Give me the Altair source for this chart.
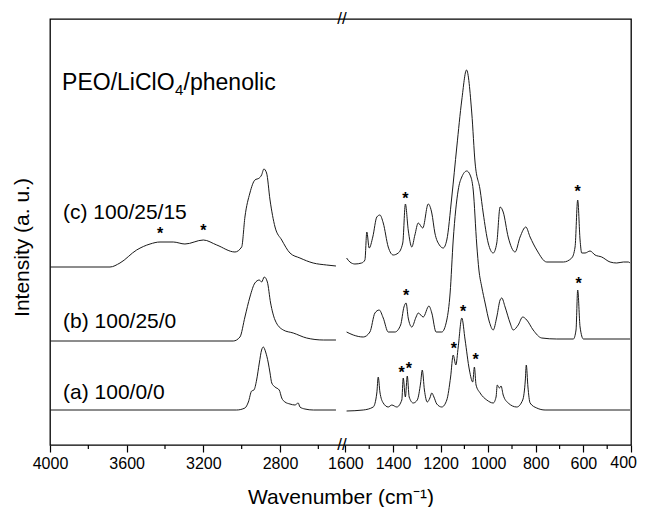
import altair as alt
import pandas as pd

# ---- spectra (wavenumber cm-1, intensity a.u.) ----
c_left_wn = [4000, 3687, 3635, 3548, 3478, 3426, 3357, 3296, 3200, 3130, 3035, 3000, 2983, 2957, 2931,
             2908, 2896, 2884, 2870, 2852, 2826, 2791, 2748, 2696, 2627, 2557, 2508]
c_left_int = [178, 178, 182, 195, 201, 203, 203, 201, 205, 200, 193, 198, 228, 252, 265,
              267, 270, 276, 272, 245, 218, 205, 192, 187, 182, 180, 179]

b_left_wn = [4000, 3044, 3009, 2983, 2957, 2931, 2908, 2896, 2882, 2866, 2849, 2826, 2783, 2731, 2661, 2574, 2508]
b_left_int = [104, 104, 108, 128, 148, 162, 165, 163, 168, 163, 142, 125, 115, 112, 107, 105, 105]

a_left_wn = [4000, 3026, 2983, 2965, 2948, 2936, 2922, 2908, 2896, 2887, 2875, 2861, 2852, 2843, 2826,
             2804, 2791, 2774, 2748, 2722, 2705, 2696, 2670, 2626, 2508]
a_left_int = [35, 35, 37, 43, 54, 55, 65, 82, 95, 98, 93, 82, 72, 62, 58,
              55, 47, 43, 41, 40, 42, 38, 36, 35, 35]

c_right_wn = [1595, 1581, 1560, 1532, 1518, 1510, 1500, 1485, 1468, 1455, 1441, 1420, 1399, 1378, 1359,
              1348, 1336, 1321, 1308, 1294, 1275, 1252, 1237, 1224, 1205, 1189, 1174, 1153, 1132, 1111,
              1091, 1069, 1055, 1034, 1021, 1000, 979, 964, 950, 937, 916, 887, 866, 842, 824,
              796, 754, 684, 649, 635, 624, 614, 607, 593, 572, 551, 523, 488, 460, 432, 411, 404]
c_right_int = [187, 183, 181, 182, 185, 213, 197, 208, 228, 230, 222, 198, 190, 192, 202,
               241, 215, 198, 210, 222, 217, 241, 232, 212, 200, 197, 205, 248, 298, 345,
               375, 332, 282, 255, 232, 202, 192, 202, 238, 233, 208, 193, 208, 218, 208,
               195, 183, 183, 187, 198, 245, 205, 192, 192, 194, 190, 188, 183, 182, 183, 183, 182]

b_right_wn = [1595, 1567, 1525, 1497, 1476, 1458, 1441, 1420, 1392, 1368, 1354, 1345, 1336, 1321, 1303,
              1294, 1273, 1249, 1237, 1219, 1195, 1174, 1160, 1147, 1126, 1111, 1090, 1076, 1063, 1048,
              1039, 1027, 1013, 995, 979, 964, 950, 943, 929, 908, 895, 874, 855, 838, 811,
              775, 712, 642, 631, 624, 614, 600, 404]
b_right_int = [113, 110, 108, 113, 132, 135, 127, 113, 113, 120, 138, 142, 127, 118, 128,
               132, 128, 139, 132, 113, 113, 125, 152, 205, 255, 268, 274, 270, 255, 200,
               175, 158, 142, 123, 115, 128, 145, 147, 138, 122, 115, 120, 128, 125, 115,
               107, 106, 106, 115, 155, 118, 106, 106]

a_right_wn = [1595, 1525, 1483, 1468, 1462, 1455, 1441, 1420, 1405, 1384, 1363, 1357, 1348, 1340, 1332,
              1315, 1298, 1284, 1277, 1268, 1256, 1245, 1237, 1228, 1216, 1195, 1174, 1158, 1147, 1136,
              1126, 1111, 1097, 1079, 1065, 1058, 1051, 1034, 1006, 979, 967, 962, 953, 946, 937,
              916, 880, 855, 844, 840, 833, 824, 796, 761, 404]
a_right_int = [34, 35, 38, 52, 68, 53, 42, 38, 40, 38, 45, 67, 48, 69, 48,
               42, 45, 62, 75, 55, 43, 47, 52, 48, 41, 38, 45, 68, 90, 80,
               98, 127, 105, 75, 63, 78, 60, 52, 45, 42, 48, 60, 57, 59, 50,
               42, 38, 45, 65, 80, 58, 42, 37, 35, 35]

# ---- asterisk markers ----
star_wn = [3426, 3200, 1348, 624, 1345, 620, 1364, 1333, 1144, 1105, 1053]
star_int = [215, 218, 250, 257, 153, 165, 76, 80, 100, 137, 89]

# ---- sample labels ----
label_text = ["(c) 100/25/15", "(b) 100/25/0", "(a) 100/0/0"]
label_wn = [3932, 3932, 3932]
label_int = [232, 123, 52]

# ---- axis ticks ----
major_ticks = [4000, 3600, 3200, 2800, 1600, 1400, 1200, 1000, 800, 600, 400]
minor_ticks = [3800, 3400, 3000, 2600, 1500, 1300, 1100, 900, 700, 500]
last_tick = [400]

W, H = 581, 426
FONT = "Liberation Sans"

rows = []
for seg, wn, iv in [("c-L", c_left_wn, c_left_int), ("c-R", c_right_wn, c_right_int),
                    ("b-L", b_left_wn, b_left_int), ("b-R", b_right_wn, b_right_int),
                    ("a-L", a_left_wn, a_left_int), ("a-R", a_right_wn, a_right_int)]:
    for w, v in zip(wn, iv):
        rows.append({"seg": seg, "wn": w, "I": v})
spec_df = pd.DataFrame(rows)
star_df = pd.DataFrame({"wn": star_wn, "I": star_int})
label_df = pd.DataFrame({"wn": label_wn, "I": label_int, "txt": label_text})
minor_df = pd.DataFrame({"wn": minor_ticks})
last_df = pd.DataFrame({"wn": last_tick, "txt": [str(v) for v in last_tick]})

xscale = alt.Scale(domain=[4000, 2500, 1600, 400], range=[0, 287.5, 295.4, W], nice=False, zero=False)
yscale = alt.Scale(domain=[0, H], nice=False, zero=False)

XTITLE = "Wavenumber (cm⁻¹)"
YTITLE = "Intensity (a. u.)"

xaxis = alt.Axis(values=major_ticks, format="d", tickSize=7, tickColor="black", tickWidth=1.2,
                 domain=False, grid=False, labelFontSize=16, labelColor="black", labelFont=FONT,
                 labelPadding=3, labelFlush=False, labelOverlap=False, labelBound=False,
                 labelExpr="datum.value == 400 ? '' : datum.label",
                 title=XTITLE, titleFont=FONT, titleFontSize=21, titleFontWeight="normal",
                 titleColor="black", titlePadding=15)
yaxis = alt.Axis(ticks=False, labels=False, domain=False, grid=False,
                 title=YTITLE, titleFont=FONT, titleFontSize=21, titleFontWeight="normal",
                 titleColor="black", titleX=-18, titleY=228)


def X():
    return alt.X("wn:Q", scale=xscale, axis=xaxis, title=XTITLE)


def Y():
    return alt.Y("I:Q", scale=yscale, axis=yaxis, title=YTITLE)


lines = alt.Chart(spec_df).mark_line(color="#1a1a1a", strokeWidth=1, interpolate="monotone").encode(
    x=X(), y=Y(), detail="seg:N", order=alt.Order("wn:Q", sort="descending"))

minor = alt.Chart(minor_df).mark_rule(color="black", strokeWidth=1.2).encode(
    x=X(), y=alt.value(H), y2=alt.value(H + 4))

# last tick label kept inside the page edge
last_lab = alt.Chart(last_df).mark_text(fontSize=16, font=FONT, color="black", align="right",
                                        baseline="top", dx=6).encode(
    x=X(), y=alt.value(H + 10), text="txt:N")

stars = alt.Chart(star_df).mark_text(text="*", fontSize=16, fontWeight="bold", font=FONT, color="black",
                                     baseline="alphabetic", dy=9).encode(x=X(), y=Y())

labels = alt.Chart(label_df).mark_text(fontSize=21, font=FONT, color="black", align="left",
                                       baseline="middle").encode(x=X(), y=Y(), text="txt:N")

title_df = pd.DataFrame({"wn": [3937], "I": [355]})
t1 = alt.Chart(title_df).mark_text(text="PEO/LiClO", fontSize=23, font=FONT, color="black",
                                   align="left", baseline="alphabetic").encode(x=X(), y=Y())
t2 = alt.Chart(title_df).mark_text(text="4", fontSize=15, font=FONT, color="black",
                                   align="left", baseline="alphabetic", dx=113, dy=5).encode(x=X(), y=Y())
t3 = alt.Chart(title_df).mark_text(text="/phenolic", fontSize=23, font=FONT, color="black",
                                   align="left", baseline="alphabetic", dx=121.5).encode(x=X(), y=Y())

one = pd.DataFrame({"k": [0]})
brk_top = alt.Chart(one).mark_text(text="//", fontSize=17, font=FONT, color="black",
                                   baseline="middle", align="center").encode(x=alt.value(292), y=alt.value(0))
brk_bot = alt.Chart(one).mark_text(text="//", fontSize=17, font=FONT, color="black",
                                   baseline="middle", align="center").encode(x=alt.value(292), y=alt.value(H))

chart = alt.layer(lines, minor, last_lab, stars, labels, t1, t2, t3, brk_top, brk_bot).properties(
    width=W, height=H,
    autosize=alt.AutoSizeParams(type="none"),
    padding={"left": 42, "top": 11, "right": 6, "bottom": 62},
).configure_view(stroke="black", strokeWidth=1.3)

chart.save("out.html", embed_options={"renderer": "svg", "actions": False})
